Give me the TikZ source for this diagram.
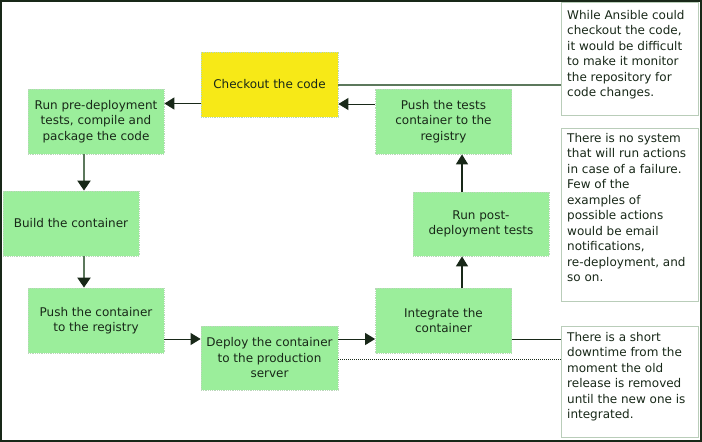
\documentclass[tikz,border=0pt]{standalone}
\usepackage{fontspec}
\setmainfont{DejaVu Sans}
\usetikzlibrary{arrows.meta,calc}
\definecolor{boxgreen}{RGB}{155,238,155}
\definecolor{ckyellow}{RGB}{247,233,23}
\definecolor{ink}{RGB}{24,40,24}
\definecolor{shaft}{RGB}{92,120,92}
\definecolor{notebd}{RGB}{185,205,185}
\definecolor{boxbd}{RGB}{185,215,185}
\begin{document}
\begin{tikzpicture}[x=1pt,y=-1pt,
  txt/.style={font=\fontsize{12}{15.5}\selectfont, text=ink},
  stepbox/.style={txt, rectangle, fill=boxgreen, draw=boxbd, densely dotted, line width=0.8pt,
    align=center, inner sep=0pt, minimum width=136pt, minimum height=65pt},
  notebox/.style={rectangle, fill=white, draw=notebd, line width=1pt, inner sep=0pt,
    minimum width=137pt, anchor=north west},
  notetext/.style={txt, align=left, anchor=north west, inner sep=0pt},
  arr/.style={draw=ink, line width=1pt, -{Triangle[length=10pt,width=12pt,color=ink]}},
  varr/.style={draw=shaft, line width=2pt, -{Triangle[length=10pt,width=13pt,color=ink]}},
  lnk/.style={draw=ink, line width=1pt}]
\useasboundingbox (0,0) rectangle (702,442);
\fill[white] (0,0) rectangle (702,442);

% process steps
\node[stepbox, fill=ckyellow, minimum width=137pt] (ck) at (269.5,84.5) {Checkout the code};
\node[stepbox] (pre) at (96,121.5) {Run pre-deployment\\tests, compile and\\package the code};
\node[stepbox] (build) at (71,223.5) {Build the container};
\node[stepbox] (push) at (96,320.5) {Push the container\\to the registry};
\node[stepbox, minimum width=137pt, minimum height=64pt] (deploy) at (269.5,358) {Deploy the container\\to the production\\server};
\node[stepbox] (integ) at (443.5,320.5) {Integrate the\\container};
\node[stepbox, minimum height=64pt] (post) at (481,224) {Run post-\\deployment tests};
\node[stepbox] (tests) at (443.5,121.5) {Push the tests\\container to the\\registry};

% notes
\node[notebox, minimum height=113pt] (n1) at (561,2) {};
\node[notetext] (t1) at (567,10) {While Ansible could\\checkout the code,\\it would be difficult\\to make it monitor\\the repository for\\code changes.};
\node[notebox, minimum height=173pt] (n2) at (561,128) {};
\node[notetext] (t2) at (567,133) {There is no system\\that will run actions\\in case of a failure.\\Few of the\\examples of\\possible actions\\would be email\\notifications,\\re-deployment, and\\so on.};
\node[notebox, minimum height=111pt] (n3) at (561,326) {};
\node[notetext] (t3) at (567,332) {There is a short\\downtime from the\\moment the old\\release is removed\\until the new one is\\integrated.};

% flow
\draw[arr, line width=1.6pt] ([yshift=-19pt]ck.west) -- ([yshift=18pt]pre.east);
\draw[varr] ([xshift=-12pt]pre.south) -- ([xshift=13pt]build.north);
\draw[varr] ([xshift=13pt]build.south) -- ([xshift=-12pt]push.north);
\draw[arr] ([yshift=-18.5pt]push.east) -- ([yshift=19pt]deploy.west);
\draw[arr] ([yshift=19pt]deploy.east) -- ([yshift=-18.5pt]integ.west);
\draw[arr, line width=1.5pt] ([xshift=18.5pt]integ.north) -- ([xshift=-19pt]post.south);
\draw[arr, line width=1.5pt] ([xshift=-19pt]post.north) -- ([xshift=18.5pt]tests.south);
\draw[arr] ([yshift=17.5pt]tests.west) -- ([yshift=-19.5pt]ck.east);

% note links
\draw[draw=shaft, line width=2pt] (ck.east) -- (ck.east -| n1.west);
\draw[lnk] ([yshift=-18.5pt]integ.east) coordinate (ia) -- (ia -| n3.west);
\draw[lnk, densely dotted] ([yshift=-1pt]deploy.east) coordinate (da) -- (da -| n3.west);

% frame
\draw[ink, line width=2pt] (1,1) rectangle (701,441);
\end{tikzpicture}
\end{document}
